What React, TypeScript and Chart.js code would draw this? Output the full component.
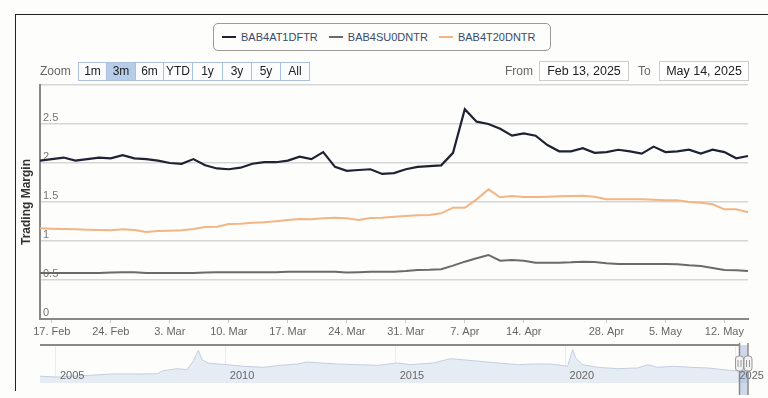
import React, { useEffect, useRef } from "react";
import { Chart, registerables } from "chart.js";
Chart.register(...registerables);

// ---------- data ----------
const dates = [
  "2025-02-14",
  "2025-02-17", "2025-02-18", "2025-02-19", "2025-02-20", "2025-02-21",
  "2025-02-24", "2025-02-25", "2025-02-26", "2025-02-27", "2025-02-28",
  "2025-03-03", "2025-03-04", "2025-03-05", "2025-03-06", "2025-03-07",
  "2025-03-10", "2025-03-11", "2025-03-12", "2025-03-13", "2025-03-14",
  "2025-03-17", "2025-03-18", "2025-03-19", "2025-03-20", "2025-03-21",
  "2025-03-24", "2025-03-25", "2025-03-26", "2025-03-27", "2025-03-28",
  "2025-03-31", "2025-04-01", "2025-04-02", "2025-04-03", "2025-04-04",
  "2025-04-07", "2025-04-08", "2025-04-09", "2025-04-10", "2025-04-11",
  "2025-04-14", "2025-04-15", "2025-04-16", "2025-04-17",
  "2025-04-22", "2025-04-23", "2025-04-24",
  "2025-04-28", "2025-04-29", "2025-04-30", "2025-05-01", "2025-05-02",
  "2025-05-05", "2025-05-06", "2025-05-07", "2025-05-08", "2025-05-09",
  "2025-05-12", "2025-05-13", "2025-05-14",
];

const tickDates = [
  "2025-02-17", "2025-02-24", "2025-03-03", "2025-03-10", "2025-03-17", "2025-03-24",
  "2025-03-31", "2025-04-07", "2025-04-14", "2025-04-28", "2025-05-05", "2025-05-12",
];

const seriesNames = ["BAB4AT1DFTR", "BAB4SU0DNTR", "BAB4T20DNTR"];

const bab4at1dftr = [
  2.03, 2.05, 2.07, 2.03, 2.05, 2.07, 2.06, 2.10, 2.06, 2.05,
  2.03, 2.00, 1.99, 2.05, 1.97, 1.93, 1.92, 1.94, 1.99, 2.01,
  2.01, 2.03, 2.08, 2.05, 2.14, 1.95, 1.90, 1.91, 1.92, 1.86,
  1.87, 1.92, 1.95, 1.96, 1.97, 2.13, 2.69, 2.53, 2.50, 2.44,
  2.35, 2.38, 2.35, 2.23, 2.15, 2.15, 2.19, 2.13, 2.14, 2.17,
  2.15, 2.12, 2.21, 2.14, 2.15, 2.17, 2.12, 2.17, 2.14, 2.06,
  2.09,
];

const bab4su0dntr = [
  0.59, 0.59, 0.59, 0.59, 0.59, 0.59, 0.595, 0.60, 0.60, 0.59,
  0.59, 0.59, 0.59, 0.59, 0.595, 0.60, 0.60, 0.60, 0.60, 0.60,
  0.60, 0.605, 0.605, 0.605, 0.605, 0.605, 0.595, 0.60, 0.605, 0.605,
  0.607, 0.615, 0.628, 0.63, 0.637, 0.684, 0.735, 0.778, 0.821, 0.748,
  0.757, 0.748, 0.722, 0.722, 0.722, 0.726, 0.735, 0.731, 0.714, 0.705,
  0.705, 0.705, 0.705, 0.705, 0.701, 0.688, 0.679, 0.654, 0.628, 0.624,
  0.615,
];

const bab4t20dntr = [
  1.162, 1.158, 1.154, 1.150, 1.145, 1.141, 1.137, 1.150, 1.141, 1.115,
  1.128, 1.132, 1.137, 1.154, 1.180, 1.184, 1.218, 1.222, 1.235, 1.239,
  1.252, 1.269, 1.282, 1.278, 1.291, 1.299, 1.291, 1.269, 1.295, 1.299,
  1.31, 1.32, 1.329, 1.333, 1.355, 1.427, 1.427, 1.534, 1.662, 1.560,
  1.577, 1.564, 1.564, 1.568, 1.573, 1.577, 1.581, 1.568, 1.534, 1.534,
  1.534, 1.534, 1.530, 1.521, 1.521, 1.500, 1.491, 1.470, 1.406, 1.406,
  1.368,
];

const seriesColors = ["#1e2232", "#6a6a6a", "#f2b584"];

const yTicks = [0, 0.5, 1, 1.5, 2, 2.5, 3];

// navigator (full history, decimal years)
const navYears = [
  2004.53, 2005.03, 2006.0, 2006.68, 2007.48, 2007.98, 2008.15, 2008.57, 2008.86, 2009.04,
  2009.19, 2009.3, 2009.48, 2009.75, 2010.04, 2010.51, 2011.1, 2011.6, 2012.1, 2012.4,
  2012.78, 2013.28, 2013.87, 2014.46, 2015.05, 2015.43, 2016.11, 2016.61, 2017.29, 2018.0,
  2018.59, 2019.06, 2019.56, 2020.06, 2020.21, 2020.3, 2020.5, 2020.94, 2021.53, 2022.12,
  2022.42, 2022.71, 2023.18, 2023.69, 2024.19, 2024.66, 2025.16, 2025.37,
];
const navValues = [
  1.71, 1.63, 1.81, 1.95, 1.95, 1.98, 2.29, 2.51, 2.40, 3.32,
  4.44, 3.45, 3.11, 3.0, 2.93, 2.76, 2.65, 2.86, 3.0, 3.21,
  3.11, 3.0, 2.93, 2.86, 3.11, 2.93, 3.11, 3.56, 3.35, 3.11,
  2.93, 3.0, 3.0, 2.76, 4.51, 3.63, 2.93, 2.65, 2.51, 2.58,
  2.93, 2.65, 2.76, 2.65, 2.58, 2.40, 2.23, 2.16,
];
const navYearTicks = [2005, 2010, 2015, 2020, 2025];
const navSelection = [2025.12, 2025.37];

const zoomButtons = ["1m", "3m", "6m", "YTD", "1y", "3y", "5y", "All"];
const zoomSelected = "3m";
const fromDate = "Feb 13, 2025";
const toDate = "May 14, 2025";

// ---------- helpers ----------
const MONTHS = ["Jan", "Feb", "Mar", "Apr", "May", "Jun", "Jul", "Aug", "Sep", "Oct", "Nov", "Dec"];
const fmtDate = (d: string) => {
  const [, m, day] = d.split("-");
  return `${parseInt(day, 10)}. ${MONTHS[parseInt(m, 10) - 1]}`;
};

const FONT = "'Liberation Sans', Arial, sans-serif";

export default function App() {
  const mainRef = useRef<HTMLCanvasElement | null>(null);
  const navRef = useRef<HTMLCanvasElement | null>(null);

  useEffect(() => {
    Chart.defaults.font.family = FONT;
    const main = new Chart(mainRef.current as HTMLCanvasElement, {
      type: "line",
      data: {
        labels: dates.map(fmtDate),
        datasets: [
          { label: seriesNames[0], data: bab4at1dftr, borderColor: seriesColors[0], borderWidth: 2.2, pointRadius: 0, tension: 0 },
          { label: seriesNames[1], data: bab4su0dntr, borderColor: seriesColors[1], borderWidth: 2, pointRadius: 0, tension: 0 },
          { label: seriesNames[2], data: bab4t20dntr, borderColor: seriesColors[2], borderWidth: 2, pointRadius: 0, tension: 0 },
        ],
      },
      options: {
        animation: false,
        responsive: false,
        layout: { padding: { left: 15, right: 20, top: 85, bottom: 4.8 } },
        plugins: { legend: { display: false }, tooltip: { enabled: false } },
        scales: {
          x: {
            type: "category",
            offset: false,
            grid: { display: true, drawOnChartArea: false, drawTicks: true, tickLength: 4, color: "#cccccc" },
            border: { display: true, color: "#888888", width: 2 },
            ticks: { autoSkip: false, maxRotation: 0, color: "#666666", font: { size: 11 }, padding: 2 },
            afterBuildTicks: (axis: any) => {
              axis.ticks = axis.ticks.filter((t: any) => tickDates.includes(dates[t.value]));
            },
          },
          y: {
            min: 0,
            max: 3,
            afterBuildTicks: (axis: any) => {
              axis.ticks = yTicks.map((v) => ({ value: v }));
            },
            ticks: {
              mirror: true,
              padding: 3,
              labelOffset: -6,
              color: "#777777",
              font: { size: 11 },
              callback: (v: any) => (v === 3 ? "" : String(v)),
            },
            grid: { color: "#d6d6d6", lineWidth: 1.5, drawTicks: false },
            border: { display: true, color: "#888888", width: 2 },
            title: {
              display: true,
              text: "Trading Margin",
              color: "#333333",
              font: { size: 12, weight: "bold" },
              padding: { top: 4.6, bottom: 0 },
            },
          },
        },
      },
    });

    const navPlugin = {
      id: "navHandles",
      afterDraw(chart: any) {
        const { ctx, chartArea, scales } = chart;
        const { left, top, bottom } = chartArea;
        const x1 = scales.x.getPixelForValue(navSelection[0]);
        const x2 = scales.x.getPixelForValue(navSelection[1]);
        ctx.save();
        ctx.fillStyle = "rgba(102,133,194,0.3)";
        ctx.fillRect(x1, top, x2 - x1, bottom - top + 12);
        ctx.strokeStyle = "#8a8a8a";
        ctx.lineWidth = 2;
        ctx.beginPath();
        ctx.moveTo(left, top);
        ctx.lineTo(x1, top);
        ctx.stroke();
        [x1, x2].forEach((hx) => {
          ctx.beginPath();
          ctx.moveTo(hx, top - 2);
          ctx.lineTo(hx, bottom + 12);
          ctx.strokeStyle = "#8a8a8a";
          ctx.lineWidth = 1.5;
          ctx.stroke();
          const w = 8, h = 15, ty = top + 11;
          ctx.beginPath();
          (ctx as any).roundRect(hx - w / 2, ty, w, h, 3);
          ctx.fillStyle = "#f2f2f2";
          ctx.fill();
          ctx.strokeStyle = "#999999";
          ctx.lineWidth = 1;
          ctx.stroke();
          ctx.beginPath();
          ctx.moveTo(hx - 1.5, ty + 4);
          ctx.lineTo(hx - 1.5, ty + h - 4);
          ctx.moveTo(hx + 1.5, ty + 4);
          ctx.lineTo(hx + 1.5, ty + h - 4);
          ctx.stroke();
        });
        ctx.restore();
      },
    };

    const nav = new Chart(navRef.current as HTMLCanvasElement, {
      type: "line",
      data: {
        datasets: [
          {
            label: seriesNames[0],
            data: navYears.map((x, i) => ({ x, y: navValues[i] })),
            borderColor: "#c3cfe0",
            borderWidth: 1,
            backgroundColor: "#e6ecf4",
            fill: "start",
            pointRadius: 0,
            tension: 0,
          },
        ],
      },
      options: {
        animation: false,
        responsive: false,
        layout: { padding: { left: 40, right: 20, top: 7, bottom: 13 } },
        plugins: { legend: { display: false }, tooltip: { enabled: false } },
        scales: {
          x: {
            type: "linear",
            min: navYears[0],
            max: navYears[navYears.length - 1],
            afterBuildTicks: (axis: any) => {
              axis.ticks = navYearTicks.map((v) => ({ value: v }));
            },
            grid: { color: "#ececec", lineWidth: 1, drawTicks: false, z: -1 },
            border: { display: false },
            ticks: {
              z: 1,
              align: "start",
              labelOffset: 4,
              padding: -14,
              color: "#666666",
              font: { size: 11 },
              callback: (v: any) => String(v),
            },
          },
          y: { display: false, min: 1, max: 5 },
        },
      },
      plugins: [navPlugin],
    });

    return () => {
      main.destroy();
      nav.destroy();
    };
  }, []);

  const btnWidths = [28, 29, 28, 29, 30, 29, 29, 29];
  let bx = 78;

  return (
    <div
      style={{
        position: "absolute",
        left: 0,
        top: 0,
        width: 768,
        height: 398,
        background: "#fdfdfc",
        overflow: "hidden",
        fontFamily: FONT,
      }}
    >
      {/* frame */}
      <div
        style={{
          position: "absolute",
          left: 15,
          top: 14,
          width: 760,
          height: 376,
          borderTop: "1.5px solid #222",
          borderLeft: "1.5px solid #222",
        }}
      />
      <canvas ref={mainRef} width={768} height={345} style={{ position: "absolute", left: 0, top: 0 }} />
      <canvas ref={navRef} width={768} height={58} style={{ position: "absolute", left: 0, top: 338 }} />

      {/* legend */}
      <div
        style={{
          position: "absolute",
          left: 213,
          top: 23,
          width: 338,
          height: 28,
          boxSizing: "border-box",
          border: "1px solid #9a9a9a",
          borderRadius: 5,
          display: "flex",
          alignItems: "center",
          paddingLeft: 8,
          background: "#fdfdfc",
        }}
      >
        {seriesNames.map((n, i) => (
          <div key={n} style={{ display: "flex", alignItems: "center", marginRight: 11 }}>
            <div style={{ width: 14, height: 2, background: seriesColors[i], marginRight: 5 }} />
            <span style={{ fontSize: 11, color: "#3b4a6b" }}>{n}</span>
          </div>
        ))}
      </div>

      {/* zoom buttons */}
      <div style={{ position: "absolute", left: 40, top: 63, fontSize: 12, color: "#666", lineHeight: "16px" }}>Zoom</div>
      {zoomButtons.map((b, i) => {
        const left = bx;
        bx += btnWidths[i];
        return (
          <div
            key={b}
            style={{
              position: "absolute",
              left,
              top: 62,
              width: btnWidths[i] + 1,
              height: 19,
              boxSizing: "border-box",
              border: "1px solid #a9c0de",
              background: b === zoomSelected ? "#b6cce9" : "#fbfcfe",
              fontSize: 12,
              color: "#222",
              textAlign: "center",
              lineHeight: "17px",
            }}
          >
            {b}
          </div>
        );
      })}

      {/* date range */}
      <div style={{ position: "absolute", left: 505, top: 63, fontSize: 12, color: "#666", lineHeight: "16px" }}>From</div>
      <div
        style={{
          position: "absolute",
          left: 539,
          top: 61,
          width: 90,
          height: 20,
          boxSizing: "border-box",
          border: "1px solid #cccccc",
          fontSize: 12.5,
          color: "#222",
          textAlign: "center",
          lineHeight: "18px",
          background: "#fff",
        }}
      >
        {fromDate}
      </div>
      <div style={{ position: "absolute", left: 638, top: 63, fontSize: 12, color: "#666", lineHeight: "16px" }}>To</div>
      <div
        style={{
          position: "absolute",
          left: 659,
          top: 61,
          width: 90,
          height: 20,
          boxSizing: "border-box",
          border: "1px solid #cccccc",
          fontSize: 12.5,
          color: "#222",
          textAlign: "center",
          lineHeight: "18px",
          background: "#fff",
        }}
      >
        {toDate}
      </div>
    </div>
  );
}
